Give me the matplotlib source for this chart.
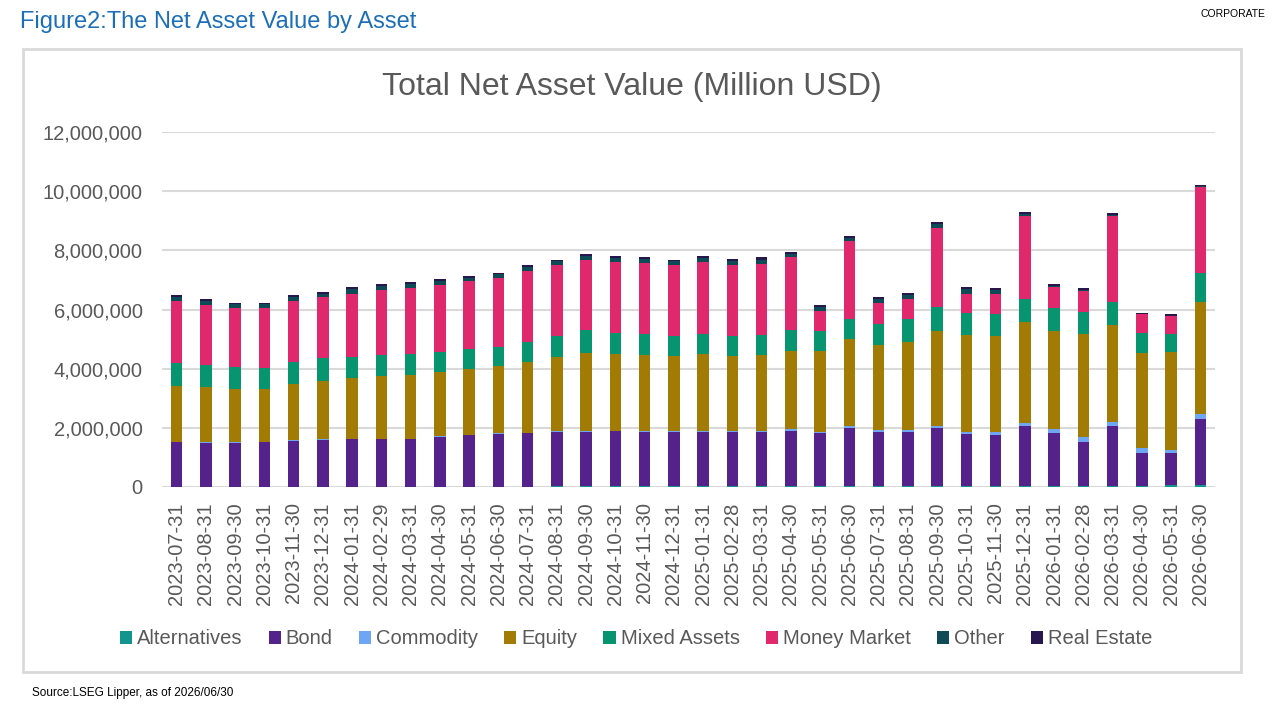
import matplotlib.pyplot as plt
from matplotlib.patches import Rectangle
from matplotlib.ticker import FuncFormatter

plt.rcParams['font.family'] = ['Liberation Sans', 'DejaVu Sans']

dates = ["2023-07-31", "2023-08-31", "2023-09-30", "2023-10-31", "2023-11-30", "2023-12-31",
         "2024-01-31", "2024-02-29", "2024-03-31", "2024-04-30", "2024-05-31", "2024-06-30",
         "2024-07-31", "2024-08-31", "2024-09-30", "2024-10-31", "2024-11-30", "2024-12-31",
         "2025-01-31", "2025-02-28", "2025-03-31", "2025-04-30", "2025-05-31", "2025-06-30",
         "2025-07-31", "2025-08-31", "2025-09-30", "2025-10-31", "2025-11-30", "2025-12-31",
         "2026-01-31", "2026-02-28", "2026-03-31", "2026-04-30", "2026-05-31", "2026-06-30"]

# values in millions of the axis unit (axis shows x 1,000,000)
alternatives = [0.01, 0.01, 0.01, 0.01, 0.01, 0.01, 0.01, 0.01, 0.01, 0.01, 0.01, 0.01,
                0.01, 0.03, 0.03, 0.03, 0.03, 0.03, 0.03, 0.03, 0.03, 0.03, 0.03, 0.03,
                0.03, 0.03, 0.03, 0.03, 0.03, 0.03, 0.03, 0.03, 0.03, 0.04, 0.07, 0.07]
bond = [1.50, 1.47, 1.47, 1.50, 1.55, 1.58, 1.60, 1.60, 1.60, 1.69, 1.74, 1.78,
        1.80, 1.83, 1.84, 1.85, 1.83, 1.83, 1.83, 1.83, 1.83, 1.85, 1.78, 1.96,
        1.83, 1.83, 1.96, 1.76, 1.73, 2.03, 1.78, 1.50, 2.03, 1.12, 1.07, 2.22]
commodity = [0.02, 0.03, 0.03, 0.02, 0.03, 0.02, 0.02, 0.02, 0.02, 0.02, 0.02, 0.02,
             0.02, 0.02, 0.02, 0.02, 0.02, 0.02, 0.03, 0.03, 0.03, 0.07, 0.06, 0.07,
             0.07, 0.05, 0.07, 0.08, 0.11, 0.12, 0.14, 0.17, 0.15, 0.17, 0.11, 0.17]
equity = [1.88, 1.88, 1.79, 1.77, 1.89, 1.99, 2.05, 2.12, 2.15, 2.18, 2.21, 2.28,
          2.40, 2.50, 2.65, 2.59, 2.57, 2.55, 2.60, 2.54, 2.57, 2.65, 2.73, 2.93,
          2.87, 3.00, 3.22, 3.27, 3.23, 3.40, 3.33, 3.47, 3.26, 3.21, 3.32, 3.80]
mixed_assets = [0.79, 0.74, 0.74, 0.71, 0.75, 0.75, 0.70, 0.71, 0.71, 0.67, 0.67, 0.63,
                0.68, 0.72, 0.76, 0.72, 0.72, 0.67, 0.68, 0.67, 0.68, 0.70, 0.68, 0.68,
                0.71, 0.76, 0.79, 0.75, 0.74, 0.79, 0.76, 0.75, 0.79, 0.67, 0.60, 0.98]
money_market = [2.09, 2.03, 2.00, 2.03, 2.06, 2.06, 2.14, 2.21, 2.22, 2.25, 2.32, 2.36,
                2.40, 2.40, 2.38, 2.40, 2.41, 2.40, 2.44, 2.40, 2.39, 2.46, 0.68, 2.65,
                0.72, 0.70, 2.70, 0.65, 0.70, 2.79, 0.71, 0.71, 2.90, 0.63, 0.61, 2.91]
other = [0.14, 0.13, 0.13, 0.13, 0.14, 0.13, 0.16, 0.13, 0.16, 0.14, 0.11, 0.11,
         0.13, 0.13, 0.13, 0.13, 0.12, 0.13, 0.13, 0.15, 0.16, 0.13, 0.13, 0.11,
         0.12, 0.13, 0.13, 0.14, 0.11, 0.08, 0.06, 0.03, 0.04, 0.01, 0.01, 0.01]
real_estate = [0.06, 0.06, 0.06, 0.06, 0.06, 0.06, 0.07, 0.06, 0.07, 0.06, 0.05, 0.05,
               0.06, 0.06, 0.06, 0.06, 0.06, 0.06, 0.06, 0.07, 0.07, 0.06, 0.06, 0.05,
               0.06, 0.06, 0.06, 0.07, 0.06, 0.05, 0.05, 0.05, 0.05, 0.04, 0.05, 0.04]

series = [("Alternatives", alternatives, "#12958f"),
          ("Bond", bond, "#55228c"),
          ("Commodity", commodity, "#6ea6f3"),
          ("Equity", equity, "#a27b04"),
          ("Mixed Assets", mixed_assets, "#079570"),
          ("Money Market", money_market, "#e0296c"),
          ("Other", other, "#0f4b57"),
          ("Real Estate", real_estate, "#28174f")]

grey = "#595959"

fig = plt.figure(figsize=(12.8, 7.2), dpi=100)
ax = fig.add_axes([162 / 1280, 1 - 487 / 720, 1053 / 1280, 355 / 720])

x = list(range(len(dates)))
bottom = [0.0] * len(dates)
for name, vals, col in series:
    ax.bar(x, vals, width=0.4, bottom=bottom, color=col, label=name, zorder=3)
    bottom = [b + v for b, v in zip(bottom, vals)]

ax.set_xlim(-0.5, len(dates) - 0.5)
ax.set_ylim(0, 12)
ax.set_yticks([0, 2, 4, 6, 8, 10, 12])
ax.yaxis.set_major_formatter(FuncFormatter(lambda v, p: f"{v * 1e6:,.0f}"))
ax.set_xticks(x)
ax.set_xticklabels(dates, rotation=90)
ax.grid(axis='y', color='#d9d9d9', linewidth=1.5, zorder=0)
for s in ax.spines.values():
    s.set_visible(False)
ax.tick_params(axis='both', length=0, labelsize=14.5, labelcolor=grey)
ax.tick_params(axis='y', pad=14)
ax.tick_params(axis='x', pad=11)

# chart frame
fig.patches.append(Rectangle((23 / 1280, 1 - 672 / 720), 1218 / 1280, 623 / 720,
                             transform=fig.transFigure, fill=False,
                             edgecolor='#d9d9d9', linewidth=2))

fig.text(632 / 1280, 1 - 87 / 720, "Total Net Asset Value (Million USD)",
         ha='center', va='center', fontsize=23, color=grey)
fig.text(20 / 1280, 1 - 22 / 720, "Figure2:The Net Asset Value by Asset",
         ha='left', va='center', fontsize=17, color='#1b6fb8')
fig.text(1265 / 1280, 1 - 14 / 720, "CORPORATE", ha='right', va='center',
         fontsize=7.5, color='black')
fig.text(32 / 1280, 1 - 693 / 720, "Source:LSEG Lipper, as of 2026/06/30",
         ha='left', va='center', fontsize=8.5, color='black')

handles, labels = ax.get_legend_handles_labels()
fig.legend(handles, labels, loc='center', bbox_to_anchor=(636 / 1280, 1 - 639 / 720),
           ncol=8, frameon=False, fontsize=14.5, labelcolor=grey,
           handlelength=0.6, handleheight=0.6, handletextpad=0.25, columnspacing=1.3)

fig.savefig("out.png", dpi=100)
